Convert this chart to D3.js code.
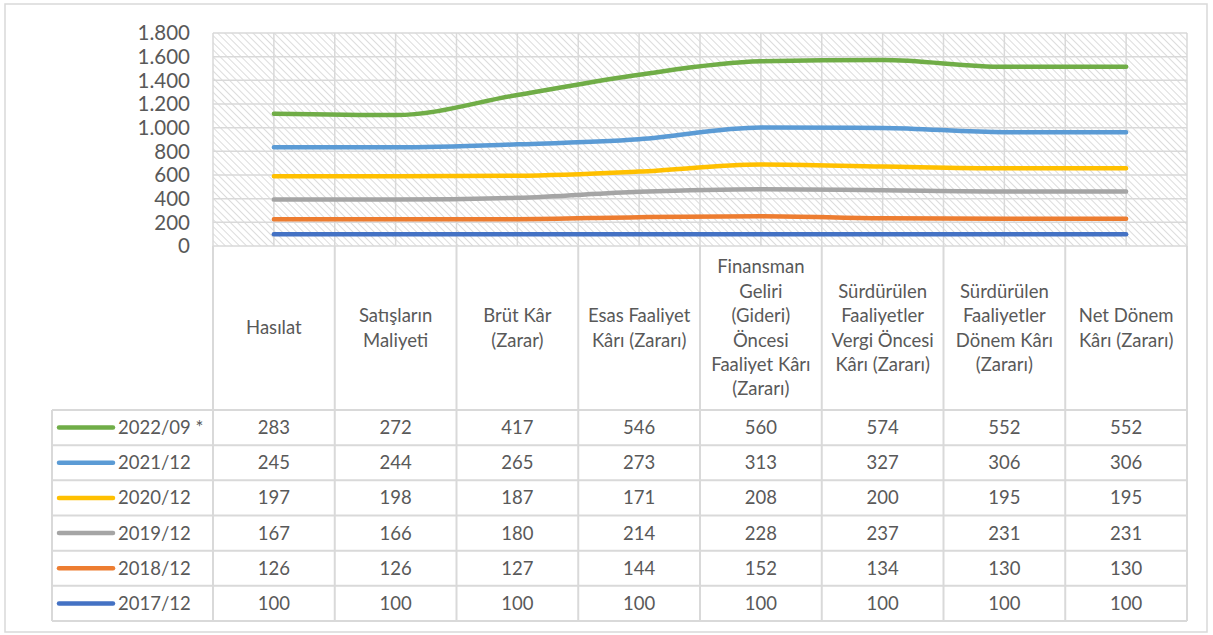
<!DOCTYPE html>
<html>
<head>
<meta charset="utf-8">
<script src="https://cdn.jsdelivr.net/npm/d3@7"></script>
<style>
  body { margin: 0; background: #fff; }
  svg { display: block; font-family: Lato, "Open Sans", sans-serif; }
</style>
</head>
<body>
<div id="chart"></div>
<script>
"use strict";

// Categories (header of the data table), each split into its wrapped lines
const categories = [
    ["Hasılat"],
    ["Satışların", "Maliyeti"],
    ["Brüt Kâr", "(Zarar)"],
    ["Esas Faaliyet", "Kârı (Zararı)"],
    ["Finansman", "Geliri", "(Gideri)", "Öncesi", "Faaliyet Kârı", "(Zararı)"],
    ["Sürdürülen", "Faaliyetler", "Vergi Öncesi", "Kârı (Zararı)"],
    ["Sürdürülen", "Faaliyetler", "Dönem Kârı", "(Zararı)"],
    ["Net Dönem", "Kârı (Zararı)"]
];

// Series, bottom of the stack first
const seriesNames = ["2017/12", "2018/12", "2019/12", "2020/12", "2021/12", "2022/09 *"];
const seriesColors = ["#4472C4", "#ED7D31", "#A5A5A5", "#FFC000", "#5B9BD5", "#70AD47"];

const v2017 = [100, 100, 100, 100, 100, 100, 100, 100];
const v2018 = [126, 126, 127, 144, 152, 134, 130, 130];
const v2019 = [167, 166, 180, 214, 228, 237, 231, 231];
const v2020 = [197, 198, 187, 171, 208, 200, 195, 195];
const v2021 = [245, 244, 265, 273, 313, 327, 306, 306];
const v2022 = [283, 272, 417, 546, 560, 574, 552, 552];
const seriesValues = [v2017, v2018, v2019, v2020, v2021, v2022];

const yTicks = [0, 200, 400, 600, 800, 1000, 1200, 1400, 1600, 1800];

const width = 1213, height = 635;
const plotL = 213, plotR = 1187, plotT = 33, plotB = 246;
const headB = 410, tableB = 621, legendL = 52;
const textColor = "#595959", gridColor = "#d9d9d9";

// stacked rows for d3.stack
const rows = categories.map((c, i) => {
    const r = { idx: i };
    seriesNames.forEach((s, j) => r[s] = seriesValues[j][i]);
    return r;
});
const stacked = d3.stack().keys(seriesNames)(rows);

const x = d3.scaleBand().domain(d3.range(categories.length)).range([plotL, plotR]);
const y = d3.scaleLinear().domain([0, 1800]).range([plotB, plotT]);

const svg = d3.select("#chart").append("svg")
    .attr("width", width)
    .attr("height", height);

const defs = svg.append("defs");
const pat = defs.append("pattern")
    .attr("id", "hatch")
    .attr("patternUnits", "userSpaceOnUse")
    .attr("width", 5)
    .attr("height", 5)
    .attr("patternTransform", "rotate(-45)");
pat.append("line")
    .attr("x1", 0).attr("y1", 0).attr("x2", 0).attr("y2", 5)
    .attr("stroke", "#d6d6d6")
    .attr("stroke-width", 1.7);

// outer chart border
svg.append("rect")
    .attr("x", 5).attr("y", 4)
    .attr("width", 1202).attr("height", 628)
    .attr("fill", "#fff")
    .attr("stroke", gridColor)
    .attr("stroke-width", 1.5);

// plot background
svg.append("rect")
    .attr("x", plotL).attr("y", plotT)
    .attr("width", plotR - plotL).attr("height", plotB - plotT)
    .attr("fill", "url(#hatch)");

// gridlines
const grid = svg.append("g").attr("stroke", gridColor).attr("stroke-width", 1.5);
grid.selectAll(".h").data(yTicks).join("line")
    .attr("x1", plotL).attr("x2", plotR)
    .attr("y1", d => y(d)).attr("y2", d => y(d));
const vPos = [];
for (let i = 0; i < categories.length; i++) {
    vPos.push(x(i), x(i) + x.bandwidth() / 2);
}
vPos.push(plotR);
grid.selectAll(".v").data(vPos).join("line")
    .attr("x1", d => d).attr("x2", d => d)
    .attr("y1", plotT).attr("y2", plotB);

// y axis labels
svg.append("g")
    .selectAll("text")
    .data(yTicks)
    .join("text")
    .attr("x", 190)
    .attr("y", d => y(d))
    .attr("dy", "0.35em")
    .attr("text-anchor", "end")
    .attr("fill", textColor)
    .style("font-size", "20.5px")
    .text(d => d3.format(",")(d).replace(/,/g, "."));

// stacked lines
const line = d3.line()
    .x((d, i) => x(i) + x.bandwidth() / 2)
    .y(d => y(d[1]))
    .curve(d3.curveMonotoneX);

svg.append("g")
    .selectAll("path")
    .data(stacked)
    .join("path")
    .attr("fill", "none")
    .attr("stroke", (d, i) => seriesColors[i])
    .attr("stroke-width", 4.5)
    .attr("stroke-linecap", "round")
    .attr("d", line);

// data table
const tbl = svg.append("g").attr("stroke", gridColor).attr("stroke-width", 2).attr("fill", "none");
const rowH = (tableB - headB) / seriesNames.length;
// vertical borders of the table
[plotL, ...d3.range(1, categories.length).map(i => x(i)), plotR].forEach(px => {
    tbl.append("line").attr("x1", px).attr("x2", px).attr("y1", plotB).attr("y2", tableB);
});
tbl.append("line").attr("x1", legendL).attr("x2", legendL).attr("y1", headB).attr("y2", tableB);
d3.range(seriesNames.length + 1).forEach(k => {
    const py = headB + k * rowH;
    tbl.append("line").attr("x1", legendL).attr("x2", plotR).attr("y1", py).attr("y2", py);
});

// header text
const head = svg.append("g")
    .attr("fill", textColor)
    .attr("text-anchor", "middle")
    .style("font-size", "18.5px");
categories.forEach((lines, i) => {
    const lh = 24.4;
    const cy = (plotB + headB) / 2 - (lines.length - 1) * lh / 2;
    lines.forEach((t, k) => {
        head.append("text")
            .attr("x", x(i) + x.bandwidth() / 2)
            .attr("y", cy + k * lh)
            .attr("dy", "0.35em")
            .text(t);
    });
});

// rows: top row is the last series
const order = d3.range(seriesNames.length).reverse();
const body = svg.append("g").attr("fill", textColor).style("font-size", "18.5px");
order.forEach((si, r) => {
    const cy = headB + r * rowH + rowH / 2;
    body.append("line")
        .attr("x1", 59).attr("x2", 113)
        .attr("y1", cy).attr("y2", cy)
        .attr("stroke", seriesColors[si])
        .attr("stroke-width", 4.5)
        .attr("stroke-linecap", "round");
    body.append("text")
        .attr("x", 118).attr("y", cy)
        .attr("dy", "0.35em")
        .text(seriesNames[si]);
    seriesValues[si].forEach((v, i) => {
        body.append("text")
            .attr("x", x(i) + x.bandwidth() / 2)
            .attr("y", cy)
            .attr("dy", "0.35em")
            .attr("text-anchor", "middle")
            .text(v);
    });
});
</script>
</body>
</html>
